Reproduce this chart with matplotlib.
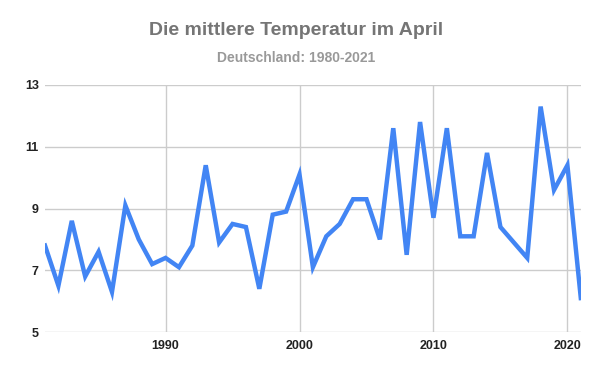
import matplotlib
matplotlib.use("Agg")
import matplotlib.pyplot as plt

years = list(range(1981, 2022))
temps = [7.8, 6.5, 8.6, 6.8, 7.6, 6.3, 9.1, 8.0, 7.2, 7.4,
         7.1, 7.8, 10.4, 7.9, 8.5, 8.4, 6.4, 8.8, 8.9, 10.1,
         7.1, 8.1, 8.5, 9.3, 9.3, 8.0, 11.6, 7.5, 11.8, 8.7,
         11.6, 8.1, 8.1, 10.8, 8.4, 7.9, 7.4, 12.3, 9.6, 10.4,
         6.1]
x_ticks = [1990, 2000, 2010, 2020]
y_ticks = [5, 7, 9, 11, 13]

plt.rcParams["font.family"] = ["Liberation Sans", "DejaVu Sans"]

fig = plt.figure(figsize=(6, 3.71), dpi=100)
ax = fig.add_axes([0.075, 0.105, 0.893, 0.666])

ax.plot(years, temps, color="#4285f4", linewidth=3.2, solid_joinstyle="miter", zorder=3)

ax.set_xlim(1981, 2021)
ax.set_ylim(5, 13)
ax.set_xticks(x_ticks)
ax.set_yticks(y_ticks)
ax.grid(True, color="#cccccc", linewidth=1)
ax.set_axisbelow(True)
for s in ax.spines.values():
    s.set_visible(False)
ax.tick_params(length=0, labelsize=9, labelcolor="#222222")
ax.tick_params(axis="y", pad=4.5)
ax.tick_params(axis="x", pad=6)
for lbl in ax.get_xticklabels() + ax.get_yticklabels():
    lbl.set_fontweight("bold")

fig.text(0.493, 0.919, "Die mittlere Temperatur im April", ha="center", va="center",
         fontsize=14, fontweight="bold", color="#757575")
fig.text(0.493, 0.843, "Deutschland: 1980-2021", ha="center", va="center",
         fontsize=10, fontweight="bold", color="#999999")

fig.savefig("out.png", dpi=100)
